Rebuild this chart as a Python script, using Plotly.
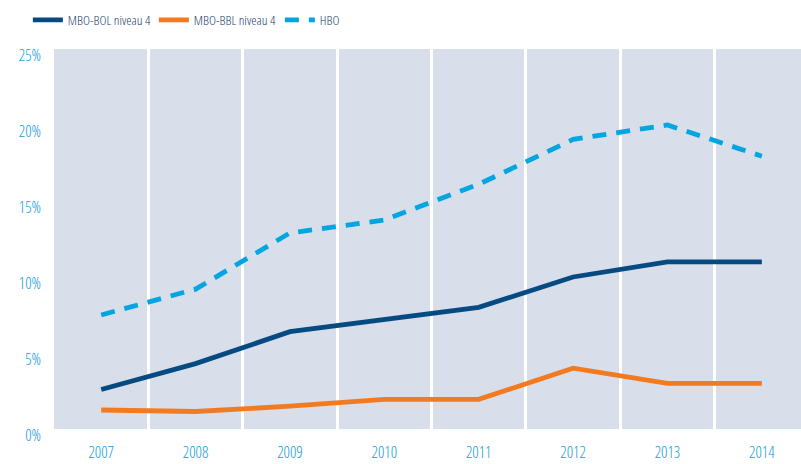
import plotly.graph_objects as go

years = ["2007", "2008", "2009", "2010", "2011", "2012", "2013", "2014"]
mbo_bol = [2.6, 4.3, 6.4, 7.2, 8.0, 10.0, 11.0, 11.0]
mbo_bbl = [1.25, 1.15, 1.5, 1.95, 1.95, 4.0, 3.0, 3.0]
hbo = [7.5, 9.2, 12.9, 13.75, 16.1, 19.05, 20.0, 17.95]
series_names = ["MBO-BOL niveau 4", "MBO-BBL niveau 4", "HBO"]
y_ticks = [0, 5, 10, 15, 20, 25]
y_tick_labels = ["0%", "5%", "10%", "15%", "20%", "25%"]

FONT = "Open Sans Condensed Light, Open Sans Condensed, DejaVu Sans Condensed, sans-serif"
TICK_COLOR = "#129cdc"
TEXT_COLOR = "#1a3d6c"

x = list(range(len(years)))
boundaries = [i + 0.5 for i in range(len(years) - 1)]

fig = go.Figure()
fig.add_trace(go.Scatter(x=x, y=mbo_bol, mode="lines", name=series_names[0],
                         line=dict(color="#064a82", width=4.8)))
fig.add_trace(go.Scatter(x=x, y=mbo_bbl, mode="lines", name=series_names[1],
                         line=dict(color="#f47a20", width=4.8)))
fig.add_trace(go.Scatter(x=x, y=hbo, mode="lines", name=series_names[2],
                         line=dict(color="#00a6e2", width=4.8, dash="14px,10px")))

fig.update_layout(
    width=801, height=464,
    margin=dict(l=54, r=0, t=49, b=35, autoexpand=False),
    paper_bgcolor="white",
    plot_bgcolor="#d8deea",
    font=dict(family=FONT, size=16, color=TEXT_COLOR),
    showlegend=True,
    legend=dict(orientation="h", x=-0.035, y=1.076, xanchor="left", yanchor="middle",
                font=dict(family=FONT, size=13.5, color=TEXT_COLOR),
                bgcolor="rgba(0,0,0,0)", itemwidth=30, traceorder="normal",
                entrywidth=81),
    xaxis=dict(
        range=[-0.5, 7.415], automargin=False,
        tickmode="array", tickvals=x, ticktext=years,
        showgrid=False, zeroline=False, showline=False, ticks="",
        tickfont=dict(family=FONT, size=16, color=TICK_COLOR),
        ticklabelstandoff=12,
        minor=dict(tickmode="array", tickvals=boundaries, showgrid=True,
                   gridcolor="white", gridwidth=2.5, ticks=""),
    ),
    yaxis=dict(
        range=[0, 25], automargin=False,
        tickmode="array", tickvals=y_ticks, ticktext=y_tick_labels,
        showgrid=False, zeroline=False, showline=False, ticks="",
        tickfont=dict(family=FONT, size=16, color=TICK_COLOR),
        ticklabelstandoff=12,
        ticklabelshift=6,
    ),
)

fig.write_html("out.html",
               config={"displayModeBar": False},
               post_script="document.body.style.margin='0';document.body.style.overflow='hidden';")
